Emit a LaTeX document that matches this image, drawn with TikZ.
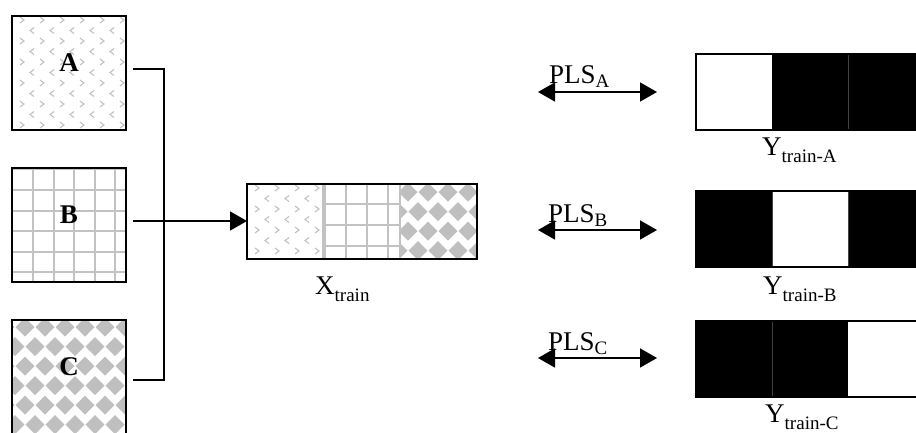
\documentclass[tikz,border=0pt]{standalone}
\usepackage{fontspec}
\setmainfont{Liberation Serif}
\usetikzlibrary{arrows.meta}

% lowered, smaller subscript text
\newcommand\lowsub[2][7.5pt]{\raisebox{-#1}{\fontsize{19}{19}\selectfont #2}}

% chevron texture: clip box (#1,#2)-(#3,#4), first ">" at (#5,#6)
\newcommand\chevfill[6]{%
  \begin{scope}
    \clip (#1,#2) rectangle (#3,#4);
    \foreach \r in {0,...,6}{\foreach \c in {0,...,6}{
      \draw[chev] ({#5+20*\c-2},{#6+21*\r-3}) -- ++(4,3) -- ++(-4,3);
      \draw[chev] ({#5+12+20*\c},{#6+10.5+21*\r-3}) -- ++(-4,3) -- ++(4,3);
    }}
  \end{scope}}

% square grid texture: clip box, first lines at (#5,#6), pitch #7
\newcommand\gridfill[7]{%
  \begin{scope}
    \clip (#1,#2) rectangle (#3,#4);
    \foreach \c in {-1,...,6}{
      \draw[gridline] ({#5+#7*\c},#2) -- ({#5+#7*\c},#4);
      \draw[gridline] (#1,{#6+#7*\c}) -- (#3,{#6+#7*\c});
    }
  \end{scope}}

% diamond texture: clip box, first diamond centre at (#5,#6)
\newcommand\diamfill[6]{%
  \begin{scope}
    \clip (#1,#2) rectangle (#3,#4);
    \foreach \r in {0,...,7}{\foreach \c in {-1,...,6}{
      \fill[dia] ({#5+20*\c+10*mod(\r,2)-9.5},{#6+19.5*\r})
        -- ++(9.5,-9.5) -- ++(9.5,9.5) -- ++(-9.5,9.5) -- cycle;
    }}
  \end{scope}}

\tikzset{
  frame/.style={draw=black, line width=1.8pt, inner sep=0pt, outer sep=0pt, anchor=north west},
  conn/.style={line width=1.5pt},
  headtip/.style={-{Triangle[length=17pt,width=19pt]}},
  bothtip/.style={{Triangle[length=17pt,width=19pt]}-{Triangle[length=17pt,width=19pt]}},
  chev/.style={draw=gray!48, line width=1.1pt},
  gridline/.style={draw=gray!48, line width=2pt},
  dia/.style={fill=gray!50},
  sep/.style={draw=black!75, line width=0.6pt},
  lbl/.style={anchor=base west, font=\fontsize{27}{27}\selectfont, inner sep=0pt},
  tilelbl/.style={anchor=base, font=\bfseries\fontsize{27}{27}\selectfont, inner sep=0pt},
}

\begin{document}
\begin{tikzpicture}[x=1pt,y=-1pt]
\clip (0,0) rectangle (916,432);

% ---- textures of the three input tiles
\chevfill{12}{16}{126}{130}{22}{20}
\gridfill{12}{168}{126}{282}{33}{190}{20.6}
\diamfill{12}{320}{126}{440}{25}{327}

% ---- textures of the combined block
\chevfill{247}{184}{323}{259}{257}{188}
\gridfill{323}{184}{400}{259}{346}{204}{21}
\diamfill{400}{184}{477}{259}{408}{192}
\draw[gridline] (323,184) -- (323,259);
\draw[gridline] (400,184) -- (400,259);

% ---- input tiles
\node[frame, minimum width=114pt, minimum height=114pt] (A) at (12,16) {};
\node[frame, minimum width=114pt, minimum height=114pt] (B) at (12,168) {};
\node[frame, minimum width=114pt, minimum height=114pt] (C) at (12,320) {};
\node[tilelbl] (la) at (69,71) {A};
\node[tilelbl] (lb) at (69,223) {B};
\node[tilelbl] (lc) at (69,375) {C};

% ---- combined block
\node[frame, minimum width=230pt, minimum height=75pt] (X) at (247,184) {};
\node[lbl] (lx) at (315,294) {X\lowsub{train}};

% ---- bracket joining the tiles
\coordinate (a1) at (133,69);
\coordinate (b1) at (133,221);
\coordinate (c1) at (133,380);
\coordinate (a2) at (164,69);
\coordinate (c2) at (164,380);
\draw[conn] (a1) -- (a2) -- (c2) -- (c1);
\draw[conn, headtip] (b1) -- (b1 -| X.west);

% ---- response blocks
\node[frame, fill=white, minimum width=228pt, minimum height=76pt] (YA) at (696,54) {};
\fill (772,54) rectangle (924,130);
\draw[sep] (848,54) -- (848,130);
\draw[frame] (YA.north west) rectangle (YA.south east);

\node[frame, fill=white, minimum width=228pt, minimum height=76pt] (YB) at (696,191) {};
\fill (696,191) rectangle (772,267);
\fill (848,191) rectangle (924,267);
\draw[sep] (772,191) -- (772,267);
\draw[sep] (848,191) -- (848,267);
\draw[frame] (YB.north west) rectangle (YB.south east);

\node[frame, fill=white, minimum width=228pt, minimum height=76pt] (YC) at (696,321) {};
\fill (696,321) rectangle (848,397);
\draw[sep] (772,321) -- (772,397);
\draw[frame] (YC.north west) rectangle (YC.south east);

\node[lbl] (lya) at (762,155) {Y\lowsub{train-A}};
\node[lbl] (lyb) at (763,294) {Y\lowsub{train-B}};
\node[lbl] (lyc) at (765,422) {Y\lowsub{train-C}};

% ---- PLS links
\coordinate (pa1) at (538,92);  \coordinate (pa2) at (657,92);
\coordinate (pb1) at (538,230); \coordinate (pb2) at (657,230);
\coordinate (pc1) at (538,358); \coordinate (pc2) at (657,358);
\draw[conn, bothtip] (pa1) -- (pa2);
\draw[conn, bothtip] (pb1) -- (pb2);
\draw[conn, bothtip] (pc1) -- (pc2);
\node[lbl] (pla) at (549,83) {PLS\lowsub[4pt]{A}};
\node[lbl] (plb) at (548,222) {PLS\lowsub[4pt]{B}};
\node[lbl] (plc) at (548,350) {PLS\lowsub[4pt]{C}};
\end{tikzpicture}
\end{document}
